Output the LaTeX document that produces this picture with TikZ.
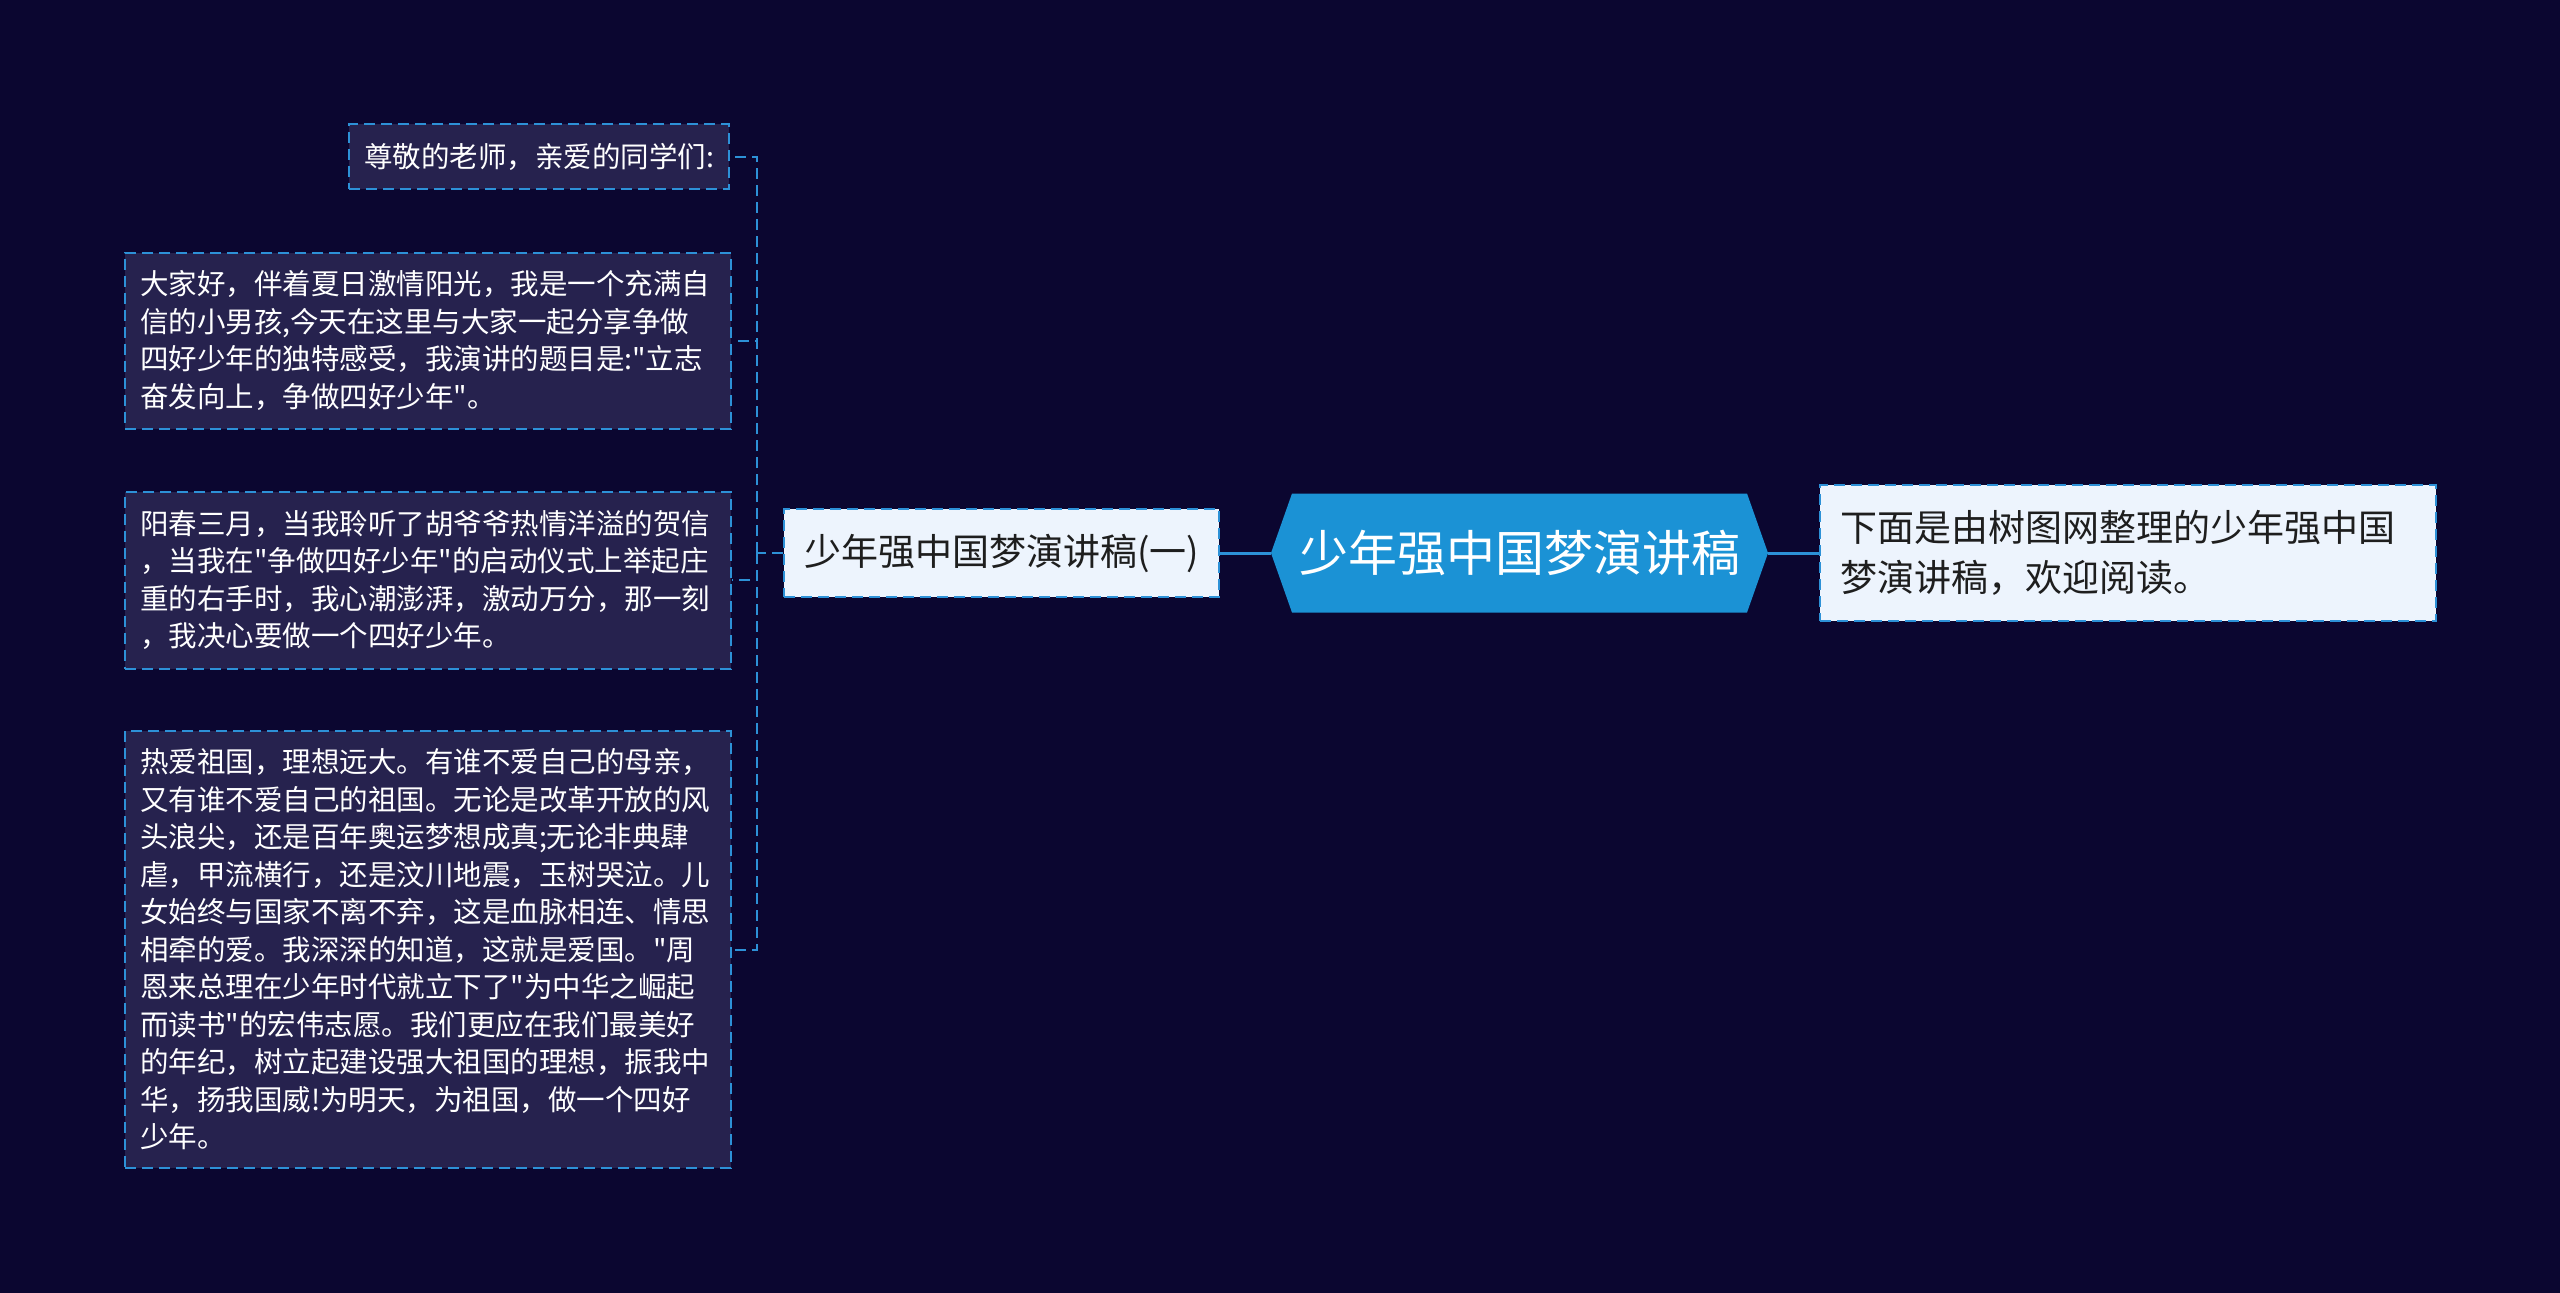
\documentclass[tikz,border=0pt]{standalone}
\usepackage{fontspec}
\setmainfont{Noto Sans CJK SC}[Ligatures=TeXOff]
\definecolor{bgc}{RGB}{11,6,48}
\definecolor{boxc}{RGB}{38,34,78}
\definecolor{lineblue}{RGB}{45,145,215}
\definecolor{hexblue}{RGB}{27,146,213}
\definecolor{lightc}{RGB}{237,244,253}
\definecolor{darktext}{RGB}{30,30,30}
\begin{document}
\begin{tikzpicture}[x=1pt,y=-1pt,
  dashborder/.style={draw=lineblue, line width=2pt, dash pattern=on 11pt off 6pt},
  leafbox/.style={dashborder, fill=boxc, text=white,
    font=\fontsize{28.5}{37.5}\selectfont, align=left, inner xsep=15pt, inner ysep=0pt},
  lightbox/.style={dashborder, fill=lightc, text=darktext,
    font=\fontsize{37}{50}\selectfont, align=left, inner sep=0pt},
  hexnode/.style={text=white, font=\fontsize{49}{55}\selectfont, inner sep=0pt,
    minimum width=497pt, minimum height=119pt,
    path picture={\fill[hexblue]
      ([xshift=21pt]path picture bounding box.north west) --
      ([xshift=-21pt]path picture bounding box.north east) --
      (path picture bounding box.east) --
      ([xshift=-21pt]path picture bounding box.south east) --
      ([xshift=21pt]path picture bounding box.south west) --
      (path picture bounding box.west) -- cycle;}},
  mainconn/.style={draw=lineblue, line width=3pt},
  subconn/.style={draw=lineblue, line width=2pt, dash pattern=on 11pt off 6pt}
]
\fill[bgc] (0,0) rectangle (2560,1293);
\useasboundingbox (0,0) rectangle (2560,1293);

% root
\node[hexnode] (root) at (1519.5,553) {少年强中国梦演讲稿};

% right box
\node[lightbox, minimum width=616pt, minimum height=136pt, text width=576pt]
  (intro) at (2128,553) {下面是由树图网整理的少年强中国\\梦演讲稿，欢迎阅读。};

% sub node
\node[lightbox, minimum width=435pt, minimum height=88pt, align=center]
  (sub) at (1001.5,553) {少年强中国梦演讲稿(一)};

% leaf boxes
\node[leafbox, anchor=east, minimum height=65pt] (c1) at (730,156.5)
  {尊敬的老师，亲爱的同学们:};
\node[leafbox, anchor=west, text width=576pt, minimum height=176pt] (c2) at (124,340.5)
  {大家好，伴着夏日激情阳光，我是一个充满自\\信的小男孩,今天在这里与大家一起分享争做\\四好少年的独特感受，我演讲的题目是:"立志\\奋发向上，争做四好少年"。};
\node[leafbox, anchor=west, text width=576pt, minimum height=177pt] (c3) at (124,580)
  {阳春三月，当我聆听了胡爷爷热情洋溢的贺信\\，当我在"争做四好少年"的启动仪式上举起庄\\重的右手时，我心潮澎湃，激动万分，那一刻\\，我决心要做一个四好少年。};
\node[leafbox, anchor=west, text width=576pt, minimum height=437pt] (c4) at (124,949.5)
  {热爱祖国，理想远大。有谁不爱自己的母亲，\\又有谁不爱自己的祖国。无论是改革开放的风\\头浪尖，还是百年奥运梦想成真;无论非典肆\\虐，甲流横行，还是汶川地震，玉树哭泣。儿\\女始终与国家不离不弃，这是血脉相连、情思\\相牵的爱。我深深的知道，这就是爱国。"周\\恩来总理在少年时代就立下了"为中华之崛起\\而读书"的宏伟志愿。我们更应在我们最美好\\的年纪，树立起建设强大祖国的理想，振我中\\华，扬我国威!为明天，为祖国，做一个四好\\少年。};

% connectors
\draw[mainconn] (root.west) -- (sub.east);
\draw[mainconn] (root.east) -- (intro.west);
\coordinate (bus) at (757,553);
\draw[subconn] (sub.west) -- (bus);
\draw[subconn] (bus) |- (c1.east);
\draw[subconn] (bus) |- (c2.east);
\draw[subconn] (bus) |- (c3.east);
\draw[subconn] (bus) |- (c4.east);
\end{tikzpicture}
\end{document}
